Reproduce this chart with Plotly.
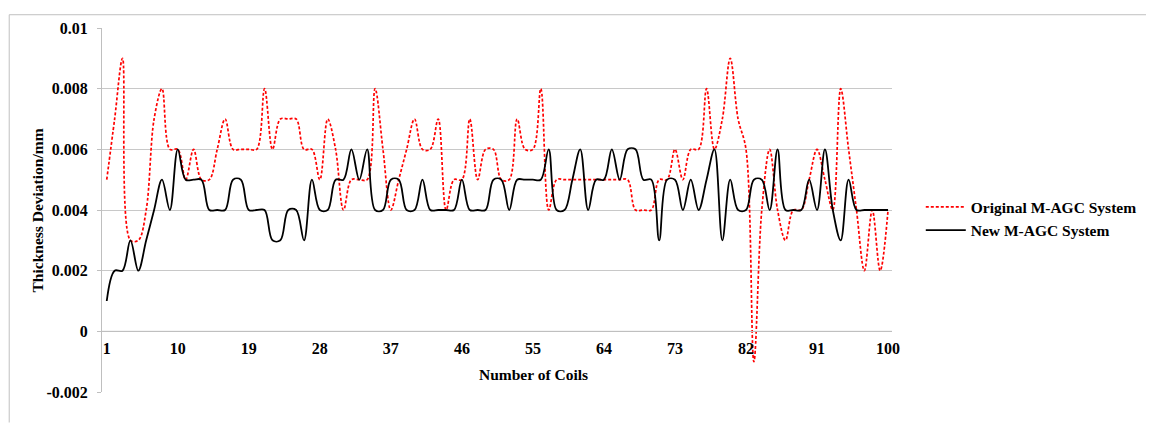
import plotly.graph_objects as go

coils = list(range(1, 101))

original = [
    0.005, 0.007, 0.009, 0.003, 0.003, 0.004, 0.007, 0.008, 0.006, 0.006,
    0.005, 0.006, 0.005, 0.005, 0.006, 0.007, 0.006, 0.006, 0.006, 0.006,
    0.008, 0.006, 0.007, 0.007, 0.007, 0.006, 0.006, 0.005, 0.007, 0.006,
    0.004, 0.005, 0.005, 0.005, 0.008, 0.006, 0.004, 0.005, 0.006, 0.007,
    0.006, 0.006, 0.007, 0.004, 0.005, 0.005, 0.007, 0.005, 0.006, 0.006,
    0.005, 0.005, 0.007, 0.006, 0.006, 0.008, 0.004, 0.005, 0.005, 0.005,
    0.005, 0.005, 0.005, 0.005, 0.005, 0.005, 0.005, 0.004, 0.004, 0.004,
    0.005, 0.005, 0.006, 0.005, 0.006, 0.006, 0.008, 0.006, 0.007, 0.009,
    0.007, 0.006, -0.001, 0.004, 0.006, 0.004, 0.003, 0.004, 0.004, 0.005,
    0.006, 0.005, 0.004, 0.008, 0.006, 0.004, 0.002, 0.004, 0.002, 0.004,
]

new = [
    0.001, 0.002, 0.002, 0.003, 0.002, 0.003, 0.004, 0.005, 0.004, 0.006,
    0.005, 0.005, 0.005, 0.004, 0.004, 0.004, 0.005, 0.005, 0.004, 0.004,
    0.004, 0.003, 0.003, 0.004, 0.004, 0.003, 0.005, 0.004, 0.004, 0.005,
    0.005, 0.006, 0.005, 0.006, 0.004, 0.004, 0.005, 0.005, 0.004, 0.004,
    0.005, 0.004, 0.004, 0.004, 0.004, 0.005, 0.004, 0.004, 0.004, 0.005,
    0.005, 0.004, 0.005, 0.005, 0.005, 0.005, 0.006, 0.004, 0.004, 0.005,
    0.006, 0.004, 0.005, 0.005, 0.006, 0.005, 0.006, 0.006, 0.005, 0.005,
    0.003, 0.005, 0.005, 0.004, 0.005, 0.004, 0.005, 0.006, 0.003, 0.005,
    0.004, 0.004, 0.005, 0.005, 0.004, 0.006, 0.004, 0.004, 0.004, 0.005,
    0.004, 0.006, 0.004, 0.003, 0.005, 0.004, 0.004, 0.004, 0.004, 0.004,
]

x_tickvals = [1, 10, 19, 28, 37, 46, 55, 64, 73, 82, 91, 100]
y_tickvals = [-0.002, 0, 0.002, 0.004, 0.006, 0.008, 0.01]
y_ticktext = ["-0.002", "0", "0.002", "0.004", "0.006", "0.008", "0.01"]

FONT = "Liberation Serif, Times New Roman, serif"

fig = go.Figure()
fig.add_trace(go.Scatter(
    x=coils, y=original, mode="lines", name="Original M-AGC System",
    line=dict(color="#ff0000", width=1.7, dash="3px,2px", shape="spline", smoothing=1.0),
))
fig.add_trace(go.Scatter(
    x=coils, y=new, mode="lines", name="New M-AGC System",
    line=dict(color="#000000", width=1.8, shape="spline", smoothing=1.0),
))

# page body has an 8px margin: figure origin sits at (8, 8) of the window
OFF = 8
W, H = 1154 - OFF, 423 - OFF
# plot area in window pixels: x 102..898, y 22..392
L, R, T, B = 102 - OFF, 1154 - 898, 22 - OFF, 423 - 392
pw, ph = W - L - R, H - T - B

def px_x(p):
    return (p - OFF - L) / pw

def px_y(p):
    return (H - B - (p - OFF)) / ph

fig.update_layout(
    width=W, height=H,
    margin=dict(l=L, r=R, t=T, b=B, pad=0),
    paper_bgcolor="white", plot_bgcolor="white",
    font=dict(family=FONT, size=15.5, color="#000000"),
    showlegend=True,
    legend=dict(
        x=px_x(927), y=px_y(216), xanchor="left", yanchor="middle",
        font=dict(family=FONT, size=15.5, weight="bold", color="#000000"),
        bgcolor="rgba(0,0,0,0)", itemwidth=40, tracegroupgap=0,
    ),
    xaxis=dict(
        range=[0.4, 100.5],
        tickmode="array", tickvals=x_tickvals,
        ticktext=[str(v) for v in x_tickvals],
        showgrid=False, zeroline=False,
        showline=True, linecolor="#bfbfbf", linewidth=1,
        ticks="", anchor="free", position=2/12,
        tickfont=dict(family=FONT, size=16, weight="bold", color="#000000"),
        ticklabelstandoff=2,
    ),
    yaxis=dict(
        range=[-0.002, 0.01],
        tickmode="array", tickvals=y_tickvals, ticktext=y_ticktext,
        showgrid=True, gridcolor="#c8c8c8", gridwidth=1,
        zeroline=False,
        showline=True, linecolor="#bfbfbf", linewidth=1,
        ticks="outside", ticklen=4, tickcolor="#bfbfbf",
        tickfont=dict(family=FONT, size=16, weight="bold", color="#000000"),
        ticklabelstandoff=6,
    ),
    annotations=[
        dict(text="Number of Coils", x=px_x(537), y=px_y(374), xref="paper", yref="paper",
             showarrow=False, xanchor="center", yanchor="middle",
             font=dict(family=FONT, size=15.5, weight="bold", color="#000000")),
        dict(text="Thickness Deviation/mm", x=px_x(37), y=px_y(207), xref="paper", yref="paper",
             showarrow=False, xanchor="center", yanchor="middle", textangle=-90,
             font=dict(family=FONT, size=15.5, weight="bold", color="#000000")),
    ],
    shapes=[
        dict(type="line", xref="paper", yref="paper", x0=px_x(8.5), x1=px_x(1154),
             y0=px_y(8.5), y1=px_y(8.5), line=dict(color="#c0c0c0", width=1), layer="below"),
        dict(type="line", xref="paper", yref="paper", x0=px_x(8.5), x1=px_x(8.5),
             y0=px_y(8.5), y1=px_y(423), line=dict(color="#c0c0c0", width=1), layer="below"),
        dict(type="line", xref="paper", yref="y", x0=0, x1=1,
             y0=0, y1=0, line=dict(color="#bfbfbf", width=1), layer="below"),
    ],
)

fig.write_html("out.html")
